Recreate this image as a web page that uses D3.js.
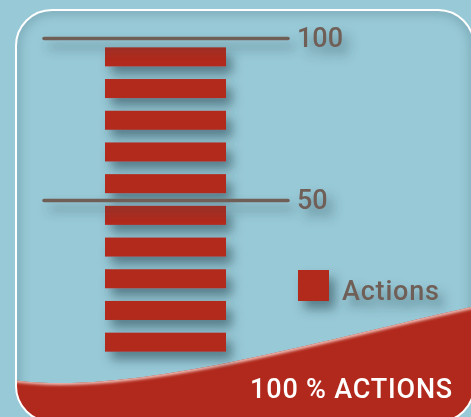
<!DOCTYPE html>
<html>
<head>
<meta charset="utf-8">
<style>
    html, body { margin: 0; padding: 0; background: #98c9d6; }
    svg { display: block; font-family: Roboto, "DejaVu Sans", sans-serif; }
</style>
</head>
<body>
<div id="chart"></div>
<script src="https://cdn.jsdelivr.net/npm/d3@7"></script>
<script>
    // one red block for every 10 %
    const levels = [10, 20, 30, 40, 50, 60, 70, 80, 90, 100];
    const tickValues = [50, 100];
    const legendItems = ['Actions'];
    const footerLabel = '100 % ACTIONS';

    const width = 471, height = 417;
    const red = '#b1291c', grey = '#6f5f57';

    const svg = d3.select('#chart').append('svg')
        .attr('width', width)
        .attr('height', height);

    const defs = svg.append('defs');

    const shadow = defs.append('filter').attr('id', 'shadow')
        .attr('x', '-20%').attr('y', '-40%').attr('width', '150%').attr('height', '220%');
    shadow.append('feDropShadow')
        .attr('dx', 6).attr('dy', 8).attr('stdDeviation', 5.5)
        .attr('flood-color', '#2a4d58').attr('flood-opacity', 0.6);

    const blur = defs.append('filter').attr('id', 'blur')
        .attr('x', '-10%').attr('y', '-10%').attr('width', '120%').attr('height', '120%');
    blur.append('feGaussianBlur').attr('stdDeviation', 5);

    const soft = defs.append('filter').attr('id', 'soft');
    soft.append('feGaussianBlur').attr('stdDeviation', 1.4);

    // panel with rounded corners, partly outside the window on the right
    const panel = { x: 16, y: 10, w: 458, h: 412, r: 36 };
    defs.append('clipPath').attr('id', 'panelClip')
        .append('rect')
        .attr('x', panel.x).attr('y', panel.y)
        .attr('width', panel.w).attr('height', panel.h)
        .attr('rx', panel.r);

    const inner = svg.append('g').attr('clip-path', 'url(#panelClip)');
    inner.append('rect')
        .attr('x', panel.x).attr('y', panel.y)
        .attr('width', panel.w).attr('height', panel.h)
        .attr('fill', '#98c9d6');
    // soft inner shade along the edges
    inner.append('rect')
        .attr('x', panel.x).attr('y', panel.y)
        .attr('width', panel.w).attr('height', panel.h)
        .attr('rx', panel.r)
        .attr('fill', 'none')
        .attr('stroke', '#4f7c88')
        .attr('stroke-width', 10)
        .attr('opacity', 0.35)
        .attr('filter', 'url(#blur)');

    const y = d3.scaleLinear().domain([0, 100]).range([362, 38]);

    const band = d3.scaleBand()
        .domain(levels.slice().reverse())
        .range([y(100) + 3, y(0) - 4])
        .paddingInner(0.4)
        .paddingOuter(0.2);

    const x = d3.scaleBand()
        .domain(legendItems)
        .range([105, 226]);

    // wave at the bottom
    const wave = d3.path();
    wave.moveTo(0, 378);
    wave.bezierCurveTo(120, 400, 300, 345, 480, 305);
    const waveLine = wave.toString();
    wave.lineTo(480, 430);
    wave.lineTo(0, 430);
    wave.closePath();

    defs.append('clipPath').attr('id', 'waveClip')
        .append('path').attr('d', wave.toString());

    inner.append('path')
        .attr('d', wave.toString())
        .attr('fill', red);
    inner.append('g').attr('clip-path', 'url(#waveClip)')
        .append('path')
        .attr('d', waveLine)
        .attr('fill', 'none')
        .attr('stroke', '#f3c6bf')
        .attr('stroke-width', 4)
        .attr('filter', 'url(#soft)');

    // bars
    svg.append('g')
        .attr('filter', 'url(#shadow)')
        .selectAll('rect')
        .data(levels)
        .join('rect')
        .attr('x', x('Actions'))
        .attr('width', x.bandwidth())
        .attr('y', d => band(d))
        .attr('height', band.bandwidth())
        .attr('fill', red);

    // reference lines with their labels
    const axis = d3.axisRight(y)
        .tickValues(tickValues)
        .tickSize(244)
        .tickPadding(9);

    const axisG = svg.append('g')
        .attr('transform', 'translate(44,0)')
        .attr('filter', 'url(#shadow)')
        .call(axis);
    axisG.select('.domain').remove();
    axisG.selectAll('line')
        .attr('stroke', grey)
        .attr('stroke-width', 3.5)
        .attr('stroke-linecap', 'round');
    axisG.selectAll('text')
        .attr('fill', grey)
        .attr('font-size', 27)
        .attr('font-weight', 500)
        .attr('font-family', 'Roboto, sans-serif');

    // legend
    const legend = svg.append('g')
        .attr('transform', 'translate(298,270)')
        .attr('filter', 'url(#shadow)');
    legend.selectAll('rect')
        .data(legendItems)
        .join('rect')
        .attr('width', 31)
        .attr('height', 31)
        .attr('fill', red);
    legend.selectAll('text')
        .data(legendItems)
        .join('text')
        .attr('x', 44)
        .attr('y', 30)
        .attr('fill', grey)
        .attr('font-size', 27)
        .attr('font-weight', 500)
        .attr('letter-spacing', 0.8)
        .text(d => d);

    svg.append('text')
        .attr('x', 453)
        .attr('y', 398)
        .attr('text-anchor', 'end')
        .attr('fill', '#ffffff')
        .attr('font-size', 27)
        .attr('font-weight', 500)
        .attr('letter-spacing', 0.8)
        .text(footerLabel);

    // white outline of the panel
    svg.append('rect')
        .attr('x', panel.x).attr('y', panel.y)
        .attr('width', panel.w).attr('height', panel.h)
        .attr('rx', panel.r)
        .attr('fill', 'none')
        .attr('stroke', '#ffffff')
        .attr('stroke-width', 2);
</script>
</body>
</html>
